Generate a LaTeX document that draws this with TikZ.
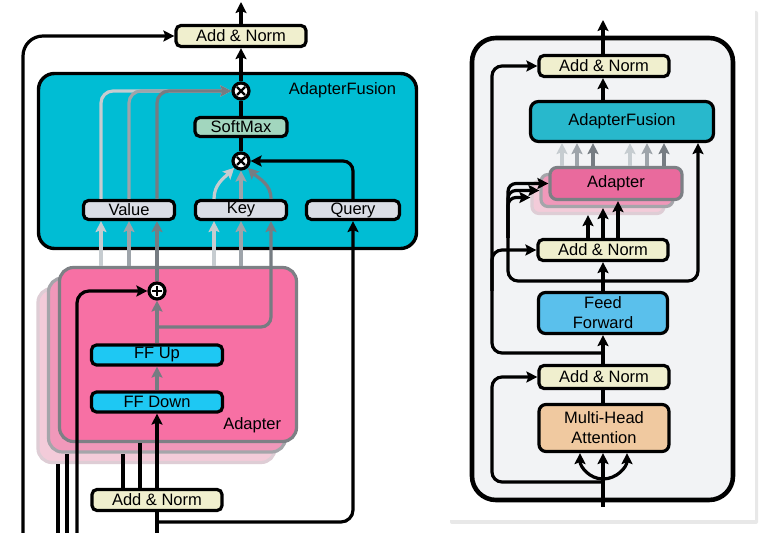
\documentclass[tikz,border=0pt]{standalone}
\usepackage{fontspec}
\setmainfont{Liberation Sans}
\usetikzlibrary{arrows.meta,positioning}

\definecolor{normfill}{RGB}{240,239,206}
\definecolor{fusionteal}{RGB}{0,189,212}
\definecolor{softfill}{RGB}{162,214,190}
\definecolor{qkvfill}{RGB}{218,221,229}
\definecolor{ffcyan}{RGB}{30,200,243}
\definecolor{adaptpink}{RGB}{247,112,164}
\definecolor{adaptmid}{RGB}{240,152,186}
\definecolor{adaptback}{RGB}{243,203,217}
\definecolor{adaptedge}{RGB}{125,128,133}
\definecolor{adaptedgemid}{RGB}{165,165,170}
\definecolor{adaptedgeback}{RGB}{222,205,213}
\definecolor{lgray}{RGB}{198,204,208}
\definecolor{mgray}{RGB}{158,164,170}
\definecolor{dgray}{RGB}{118,124,130}
\definecolor{cardgray}{RGB}{242,243,245}
\definecolor{fusionR}{RGB}{40,184,204}
\definecolor{adaptR}{RGB}{233,106,157}
\definecolor{ffblue}{RGB}{90,192,236}
\definecolor{mhafill}{RGB}{240,201,160}

\tikzset{
  blockbox/.style={draw, line width=3.2pt, rounded corners=5pt, inner sep=0pt,
    font=\fontsize{16.5}{20}\selectfont, align=center},
  normbox/.style={blockbox, fill=normfill, minimum width=130pt, minimum height=21pt},
  qkvbox/.style={blockbox, fill=qkvfill, minimum width=91pt, minimum height=19pt},
  ffbox/.style={blockbox, fill=ffcyan, minimum width=131pt, minimum height=20pt},
  adapterbox/.style={draw, line width=3.2pt, rounded corners=14pt, inner sep=0pt,
    minimum width=237pt, minimum height=174pt},
  adapterR/.style={blockbox, rounded corners=7pt, minimum width=132pt, minimum height=32pt},
  opnode/.style={circle, draw, line width=3.2pt, fill=white, minimum size=16pt, inner sep=0pt},
  mulop/.style={opnode, path picture={
    \draw[line width=2.4pt] ([shift={(-4pt,-4pt)}]path picture bounding box.center)
      -- ([shift={(4pt,4pt)}]path picture bounding box.center)
      ([shift={(-4pt,4pt)}]path picture bounding box.center)
      -- ([shift={(4pt,-4pt)}]path picture bounding box.center);}},
  addop/.style={opnode, path picture={
    \draw[line width=2.4pt] ([shift={(-5pt,0pt)}]path picture bounding box.center)
      -- ([shift={(5pt,0pt)}]path picture bounding box.center)
      ([shift={(0pt,5pt)}]path picture bounding box.center)
      -- ([shift={(0pt,-5pt)}]path picture bounding box.center);}},
  arr/.style={-{Stealth[length=11pt,width=11pt,inset=2pt]}},
}

\begin{document}
\begin{tikzpicture}[x=1pt,y=1pt,line width=3.2pt]
\useasboundingbox (0,0) rectangle (768,543);
\fill[white] (0,0) rectangle (768,543);

% ---------------- left: adapter fusion in detail
\coordinate (inA) at (23,10);
\coordinate (inB) at (58,10);
\coordinate (inC) at (67,10);
\coordinate (inD) at (77,10);
\coordinate (inM) at (157,10);
\coordinate (qtap) at (157,21);
\coordinate (keytap) at (157,216);
\coordinate (outL) at (241,541);
\coordinate (t1) at (123,0);
\coordinate (t2) at (140,0);
\coordinate (c1) at (101,0);
\coordinate (c2) at (129,0);
\coordinate (c3) at (157,0);
\coordinate (k1) at (214,0);
\coordinate (k2) at (241,0);
\coordinate (k3) at (271,0);

\node[adapterbox, fill=adaptback, draw=adaptedgeback] (adL3) at (156.5,167.5) {};
\node[adapterbox, fill=adaptmid, draw=adaptedgemid] (adL2) at (167,178) {};

\draw (inB) -- (inB |- adL3.south);
\draw (inC) -- (inC |- adL2.south);

\node[adapterbox, fill=adaptpink, draw=adaptedge] (adL1) at (178,188.5) {};
\node[anchor=east, font=\fontsize{16.5}{20}\selectfont] (adlabel) at (286,118) {Adapter};

\node[draw, line width=3.4pt, fill=fusionteal, rounded corners=16pt, inner sep=0pt,
  minimum width=378pt, minimum height=175pt] (fusionL) at (227.5,382) {};
\node[anchor=east, font=\fontsize{16.5}{20}\selectfont] (fusionlabel) at (401,453) {AdapterFusion};

\node[normbox] (addT) at (241,507) {Add \& Norm};
\node[mulop] (mulT) at (241,452) {};
\node[blockbox, fill=softfill, minimum width=92pt, minimum height=19pt] (softmax) at (241,416) {SoftMax};
\node[mulop] (mulB) at (241,382) {};
\node[qkvbox] (value) at (129,333) {Value};
\node[qkvbox] (key) at (241,333) {Key};
\node[qkvbox, minimum width=93pt] (query) at (353,333) {Query};
\node[addop] (plus) at (157,252) {};
\node[ffbox] (ffup) at (157,188) {FF Up};
\node[ffbox] (ffdown) at (157,141) {FF Down};
\node[normbox] (addB) at (157,43) {Add \& Norm};

\draw (addB.north -| t1) -- (t1 |- adL2.south);
\draw (addB.north -| t2) -- (t2 |- adL1.south);

% adapter outputs from the stacked adapters
\draw[arr, lgray] (c1 |- adL1.north) -- (value.south -| c1);
\draw[arr, mgray] (c2 |- adL1.north) -- (value.south -| c2);
\draw[arr, lgray] (k1 |- adL1.north) -- (key.south -| k1);
\draw[arr, mgray] (k2 |- adL1.north) -- (key.south -| k2);

% adapter internals
\draw (inM) -- (addB.south);
\draw[arr] (addB.north) -- (ffdown.south);
\draw[arr, dgray] (ffdown.north) -- (ffup.south);
\draw[arr, dgray] (ffup.north) -- (plus.south);
\draw[arr, rounded corners=12pt] (inD) |- (plus.west);
\draw[arr, dgray, rounded corners=10pt] (keytap) -| (key.south -| k3);
\draw[arr, dgray] (plus.north) -- (value.south -| c3);

% value / key / query
\draw[arr, lgray, rounded corners=12pt] (value.north -| c1) |- (mulT.west);
\draw[arr, mgray, rounded corners=12pt] (value.north -| c2) |- (mulT.west);
\draw[arr, dgray, rounded corners=12pt] (value.north -| c3) |- (mulT.west);
\draw[arr, lgray] (key.north -| k1) to[out=90,in=-135] (mulB.-135);
\draw[arr, mgray] (key.north -| k2) -- (mulB.south);
\draw[arr, dgray] (key.north -| k3) to[out=90,in=-45] (mulB.-45);
\draw[arr, rounded corners=12pt] (qtap) -| (query.south);
\draw[arr, rounded corners=10pt] (query.north) |- (mulB.east);
\draw (mulB) -- (softmax);
\draw (softmax) -- (mulT);
\draw[arr] (mulT) -- (addT);
\draw[arr] (addT) -- (outL);
\draw[arr, rounded corners=20pt] (inA) |- (addT.west);

% ---------------- right: transformer layer
\fill[black!9, rounded corners=2pt] (450,19) rectangle (758,532);
\fill[white] (448,23) rectangle (755,534);
\draw[line width=4.6pt, fill=cardgray, rounded corners=24pt] (472,43) rectangle (733,505);

\coordinate (inR) at (603,36);
\coordinate (split) at (603,64);
\coordinate (h1) at (580,0);
\coordinate (h3) at (627,0);
\coordinate (tapR1) at (603,61);
\coordinate (tapR2) at (603,190);
\coordinate (skipx) at (492,0);
\coordinate (adx) at (508,0);
\coordinate (fq) at (698,262);
\coordinate (outR) at (603,523);
\coordinate (a1) at (588,0);
\coordinate (a2) at (603,0);
\coordinate (a3) at (618,0);

\node[normbox] (addR3) at (604,477) {Add \& Norm};
\node[blockbox, fill=fusionR, rounded corners=8pt, minimum width=183pt, minimum height=40pt] (afR) at (622,421.5) {AdapterFusion};
\node[adapterR, fill=adaptback, draw=adaptedgeback] (adR3) at (598,345.5) {};
\node[adapterR, fill=adaptmid, draw=adaptedgemid] (adR2) at (607,352.5) {};
\node[adapterR, fill=adaptR, draw=adaptedge] (adR1) at (616,359.5) {Adapter};
\node[normbox] (addR2) at (603,293) {Add \& Norm};
\node[blockbox, fill=ffblue, rounded corners=7pt, minimum width=129pt, minimum height=41pt] (ff) at (603,230) {Feed\\Forward};
\node[normbox, minimum height=23pt] (addR1) at (604,166) {Add \& Norm};
\node[blockbox, fill=mhafill, rounded corners=7pt, minimum width=130pt, minimum height=47pt] (mha) at (604,115) {Multi-Head\\Attention};

\draw[arr] (inR) -- (mha.south -| inR);
\draw[arr] (split) to[out=180,in=-90] (mha.south -| h1);
\draw[arr] (split) to[out=0,in=-90] (mha.south -| h3);
\draw (mha.north -| inR) -- (addR1.south -| inR);
\draw[arr] (addR1.north -| inR) -- (ff.south);
\draw[arr] (ff.north) -- (addR2.south);
\draw[arr] (addR2.north -| a1) -- (adR3.south -| a1);
\draw[arr] (addR2.north -| a2) -- (adR2.south -| a2);
\draw[arr] (addR2.north -| a3) -- (adR1.south -| a3);
\foreach \gx/\gc in {562/lgray,577/mgray,593/dgray,630/lgray,647/mgray,664/dgray}
  \draw[arr, \gc] (adR1.north -| \gx,0) -- (afR.south -| \gx,0);
\draw[arr] (afR.north -| inR) -- (addR3.south -| inR);
\draw[arr] (addR3.north -| inR) -- (outR);

% residual connections
\draw[arr, rounded corners=10pt] (tapR1) -- (tapR1 -| skipx) |- (addR1.west);
\draw[arr, rounded corners=10pt] (tapR2) -- (tapR2 -| skipx) |- (addR3.west);
\draw[arr, rounded corners=10pt] (skipx |- ff.north) |- (addR2.west);
\draw[arr, rounded corners=10pt] (adx |- addR2.north) -- (adx |- fq) -- (fq) -- (afR.south -| fq);
\draw[arr, rounded corners=8pt] (adx |- addR2.north) |- (adR1.west);
\draw[arr, rounded corners=8pt] (adx |- addR2.north) |- (adR2.west);
\draw[arr, rounded corners=8pt] (adx |- addR2.north) |- (adR3.west);
\end{tikzpicture}
\end{document}
